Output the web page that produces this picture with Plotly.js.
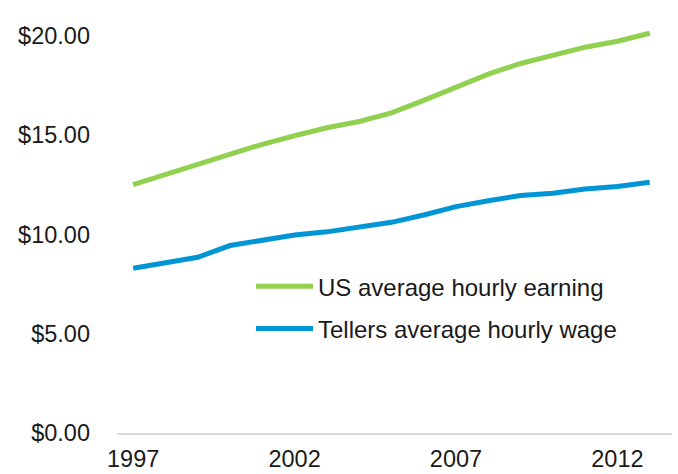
<!DOCTYPE html>
<html>
<head>
<meta charset="utf-8">
<script src="https://cdn.plot.ly/plotly-3.0.1.min.js"></script>
<style>html,body{margin:0;padding:0;background:#fff;}#chart{width:678px;height:474px;}</style>
</head>
<body>
<div id="chart"></div>
<script>
const years = [1997,1998,1999,2000,2001,2002,2003,2004,2005,2006,2007,2008,2009,2010,2011,2012,2013];
const usEarnings = [12.51,13.01,13.49,14.02,14.54,14.97,15.37,15.69,16.12,16.75,17.42,18.07,18.61,19.05,19.43,19.73,20.13];
const tellersWage = [8.30,8.55,8.85,9.44,9.72,9.97,10.13,10.34,10.61,10.98,11.40,11.70,11.96,12.07,12.29,12.41,12.63];
const seriesNames = ["US average hourly earning","Tellers average hourly wage"];
const xTicks = [1997,2002,2007,2012];
const yTicks = [0,5,10,15,20];

const font = {family:"Liberation Sans, Arial, sans-serif", size:24, color:"#1a1a1a"};
const tickFont = {family:"Liberation Sans, Arial, sans-serif", size:23.5, color:"#1a1a1a"};
const traces = [
  {x:years, y:usEarnings, name:seriesNames[0], type:"scatter", mode:"lines",
   line:{color:"#92D050", width:5}, legendgroup:"a"},
  {x:years, y:tellersWage, name:seriesNames[1], type:"scatter", mode:"lines",
   line:{color:"#0096D6", width:5}, legendgroup:"b"}
];
const layout = {
  width:678, height:474,
  margin:{l:117, r:6, t:16, b:41},
  paper_bgcolor:"#fff", plot_bgcolor:"#fff",
  font:font,
  showlegend:true,
  legend:{x:0.2414, y:0.405, xanchor:"left", yanchor:"top", font:font, itemwidth:57,
          traceorder:"grouped", tracegroupgap:8, bgcolor:"rgba(0,0,0,0)"},
  xaxis:{range:[1996.5,2013.69], tickvals:xTicks, ticktext:xTicks.map(String),
         showgrid:false, zeroline:false, showline:true, linecolor:"#d9d9d9", linewidth:1.5,
         ticks:"", tickfont:tickFont, ticklabelstandoff:4},
  yaxis:{range:[0,21], tickvals:yTicks, ticktext:yTicks.map(v=>"$"+v.toFixed(2)),
         showgrid:false, zeroline:false, showline:false, ticks:"", tickfont:tickFont,
         ticklabelstandoff:26}
};
Plotly.newPlot("chart", traces, layout, {displayModeBar:false, staticPlot:true});
</script>
</body>
</html>
